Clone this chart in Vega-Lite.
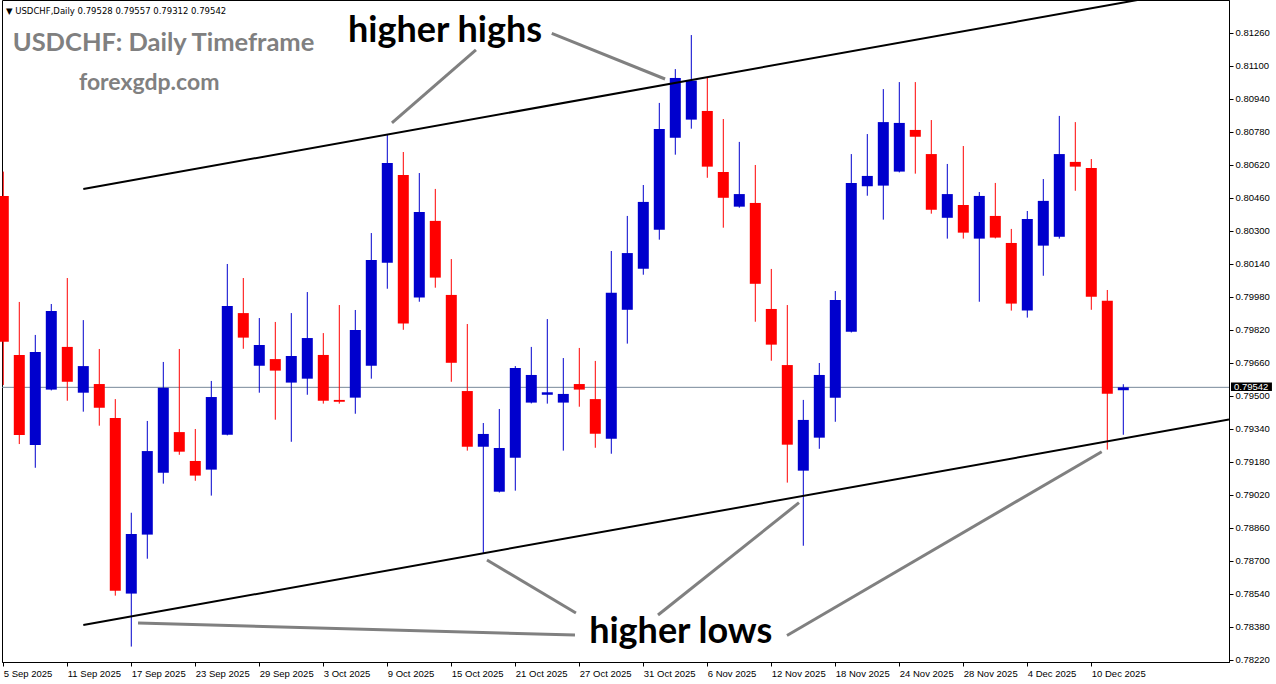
{
  "$schema": "https://vega.github.io/schema/vega-lite/v6.json",
  "width": 1227,
  "height": 662,
  "autosize": {"type": "none"},
  "padding": {"left": 2, "top": 0, "right": 47, "bottom": 22},
  "background": "white",
  "config": {
    "view": {"stroke": "#000000", "strokeWidth": 1},
    "scale": {"continuousPadding": 0},
    "axis": {"labelFont": "Liberation Sans", "labelFontSize": 9.5, "labelColor": "#000000", "tickColor": "#000000", "domainColor": "#000000", "grid": false, "title": null, "labelOverlap": false, "labelFlush": false, "labelBound": false}
  },
  "datasets": {
    "candles": [
      {"i":0,"date":"2025-09-05","open":0.80470,"high":0.80588,"low":0.79553,"close":0.79763},
      {"i":1,"date":"2025-09-08","open":0.79699,"high":0.79956,"low":0.79267,"close":0.79311},
      {"i":2,"date":"2025-09-09","open":0.79262,"high":0.79796,"low":0.79152,"close":0.79713},
      {"i":3,"date":"2025-09-10","open":0.79531,"high":0.79946,"low":0.79527,"close":0.79912},
      {"i":4,"date":"2025-09-11","open":0.79738,"high":0.80072,"low":0.79477,"close":0.79569},
      {"i":5,"date":"2025-09-12","open":0.79516,"high":0.79868,"low":0.79424,"close":0.79645},
      {"i":6,"date":"2025-09-15","open":0.79558,"high":0.79728,"low":0.79356,"close":0.79443},
      {"i":7,"date":"2025-09-16","open":0.79393,"high":0.79485,"low":0.78532,"close":0.78556},
      {"i":8,"date":"2025-09-17","open":0.78542,"high":0.78934,"low":0.78285,"close":0.78831},
      {"i":9,"date":"2025-09-18","open":0.78828,"high":0.79379,"low":0.78711,"close":0.79233},
      {"i":10,"date":"2025-09-19","open":0.79128,"high":0.79665,"low":0.79075,"close":0.79540},
      {"i":11,"date":"2025-09-22","open":0.79325,"high":0.79728,"low":0.79215,"close":0.79230},
      {"i":12,"date":"2025-09-23","open":0.79185,"high":0.79340,"low":0.79089,"close":0.79114},
      {"i":13,"date":"2025-09-24","open":0.79143,"high":0.79573,"low":0.79017,"close":0.79495},
      {"i":14,"date":"2025-09-25","open":0.79312,"high":0.80140,"low":0.79309,"close":0.79936},
      {"i":15,"date":"2025-09-26","open":0.79902,"high":0.80072,"low":0.79729,"close":0.79783},
      {"i":16,"date":"2025-09-29","open":0.79647,"high":0.79878,"low":0.79516,"close":0.79747},
      {"i":17,"date":"2025-09-30","open":0.79679,"high":0.79859,"low":0.79385,"close":0.79623},
      {"i":18,"date":"2025-10-01","open":0.79565,"high":0.79902,"low":0.79278,"close":0.79694},
      {"i":19,"date":"2025-10-02","open":0.79584,"high":0.80004,"low":0.79506,"close":0.79781},
      {"i":20,"date":"2025-10-03","open":0.79699,"high":0.79805,"low":0.79463,"close":0.79477},
      {"i":21,"date":"2025-10-06","open":0.79481,"high":0.79941,"low":0.79463,"close":0.79472},
      {"i":22,"date":"2025-10-07","open":0.79492,"high":0.79917,"low":0.79414,"close":0.79820},
      {"i":23,"date":"2025-10-08","open":0.79647,"high":0.80290,"low":0.79584,"close":0.80159},
      {"i":24,"date":"2025-10-09","open":0.80146,"high":0.80767,"low":0.80020,"close":0.80630},
      {"i":25,"date":"2025-10-10","open":0.80572,"high":0.80683,"low":0.79821,"close":0.79851},
      {"i":26,"date":"2025-10-13","open":0.79977,"high":0.80581,"low":0.79957,"close":0.80392},
      {"i":27,"date":"2025-10-14","open":0.80349,"high":0.80504,"low":0.80025,"close":0.80074},
      {"i":28,"date":"2025-10-15","open":0.79990,"high":0.80164,"low":0.79569,"close":0.79661},
      {"i":29,"date":"2025-10-16","open":0.79524,"high":0.79849,"low":0.79235,"close":0.79254},
      {"i":30,"date":"2025-10-17","open":0.79254,"high":0.79369,"low":0.78739,"close":0.79316},
      {"i":31,"date":"2025-10-20","open":0.79036,"high":0.79437,"low":0.79032,"close":0.79248},
      {"i":32,"date":"2025-10-21","open":0.79201,"high":0.79645,"low":0.79041,"close":0.79636},
      {"i":33,"date":"2025-10-22","open":0.79468,"high":0.79738,"low":0.79464,"close":0.79602},
      {"i":34,"date":"2025-10-23","open":0.79506,"high":0.79873,"low":0.79463,"close":0.79518},
      {"i":35,"date":"2025-10-24","open":0.79468,"high":0.79684,"low":0.79235,"close":0.79510},
      {"i":36,"date":"2025-10-27","open":0.79558,"high":0.79733,"low":0.79448,"close":0.79531},
      {"i":37,"date":"2025-10-28","open":0.79485,"high":0.79670,"low":0.79249,"close":0.79317},
      {"i":38,"date":"2025-10-29","open":0.79293,"high":0.80203,"low":0.79220,"close":0.80000},
      {"i":39,"date":"2025-10-30","open":0.79918,"high":0.80373,"low":0.79754,"close":0.80193},
      {"i":40,"date":"2025-10-31","open":0.80117,"high":0.80523,"low":0.80088,"close":0.80441},
      {"i":41,"date":"2025-11-03","open":0.80306,"high":0.80921,"low":0.80258,"close":0.80795},
      {"i":42,"date":"2025-11-04","open":0.80752,"high":0.81085,"low":0.80670,"close":0.81042},
      {"i":43,"date":"2025-11-05","open":0.80840,"high":0.81250,"low":0.80796,"close":0.81029},
      {"i":44,"date":"2025-11-06","open":0.80882,"high":0.81043,"low":0.80558,"close":0.80612},
      {"i":45,"date":"2025-11-07","open":0.80586,"high":0.80843,"low":0.80316,"close":0.80461},
      {"i":46,"date":"2025-11-10","open":0.80418,"high":0.80732,"low":0.80413,"close":0.80479},
      {"i":47,"date":"2025-11-11","open":0.80436,"high":0.80620,"low":0.79860,"close":0.80044},
      {"i":48,"date":"2025-11-12","open":0.79922,"high":0.80116,"low":0.79671,"close":0.79749},
      {"i":49,"date":"2025-11-13","open":0.79650,"high":0.79941,"low":0.79080,"close":0.79264},
      {"i":50,"date":"2025-11-14","open":0.79138,"high":0.79481,"low":0.78774,"close":0.79384},
      {"i":51,"date":"2025-11-17","open":0.79298,"high":0.79660,"low":0.79244,"close":0.79602},
      {"i":52,"date":"2025-11-18","open":0.79492,"high":0.80009,"low":0.79375,"close":0.79965},
      {"i":53,"date":"2025-11-19","open":0.79812,"high":0.80673,"low":0.79808,"close":0.80533},
      {"i":54,"date":"2025-11-20","open":0.80517,"high":0.80770,"low":0.80471,"close":0.80567},
      {"i":55,"date":"2025-11-21","open":0.80520,"high":0.80988,"low":0.80355,"close":0.80828},
      {"i":56,"date":"2025-11-24","open":0.80588,"high":0.81022,"low":0.80584,"close":0.80824},
      {"i":57,"date":"2025-11-25","open":0.80790,"high":0.81022,"low":0.80578,"close":0.80757},
      {"i":58,"date":"2025-11-26","open":0.80673,"high":0.80838,"low":0.80384,"close":0.80403},
      {"i":59,"date":"2025-11-27","open":0.80364,"high":0.80625,"low":0.80263,"close":0.80479},
      {"i":60,"date":"2025-11-28","open":0.80426,"high":0.80712,"low":0.80263,"close":0.80292},
      {"i":61,"date":"2025-12-01","open":0.80263,"high":0.80489,"low":0.79957,"close":0.80470},
      {"i":62,"date":"2025-12-02","open":0.80373,"high":0.80533,"low":0.80264,"close":0.80268},
      {"i":63,"date":"2025-12-03","open":0.80242,"high":0.80310,"low":0.79914,"close":0.79948},
      {"i":64,"date":"2025-12-04","open":0.79914,"high":0.80397,"low":0.79880,"close":0.80358},
      {"i":65,"date":"2025-12-05","open":0.80229,"high":0.80552,"low":0.80083,"close":0.80446},
      {"i":66,"date":"2025-12-08","open":0.80272,"high":0.80858,"low":0.80263,"close":0.80673},
      {"i":67,"date":"2025-12-09","open":0.80635,"high":0.80828,"low":0.80495,"close":0.80612},
      {"i":68,"date":"2025-12-10","open":0.80605,"high":0.80649,"low":0.79918,"close":0.79981},
      {"i":69,"date":"2025-12-11","open":0.79962,"high":0.80014,"low":0.79240,"close":0.79511},
      {"i":70,"date":"2025-12-12","open":0.79528,"high":0.79557,"low":0.79312,"close":0.79542}
    ],
    "trend": [
      {"line":"upper","i":5.0,"p":0.805036},
      {"line":"upper","i":76.606,"p":0.814995},
      {"line":"lower","i":5.0,"p":0.783897},
      {"line":"lower","i":76.606,"p":0.793856}
    ],
    "pointers": [
      {"id":"h1","i":24.29,"p":0.80824},
      {"id":"h1","i":29.54,"p":0.81178},
      {"id":"h2","i":34.28,"p":0.812585},
      {"id":"h2","i":41.36,"p":0.81037},
      {"id":"l1","i":8.42,"p":0.783994},
      {"id":"l1","i":35.73,"p":0.783412},
      {"id":"l2","i":30.23,"p":0.787048},
      {"id":"l2","i":35.79,"p":0.784479},
      {"id":"l3","i":49.73,"p":0.789827},
      {"id":"l3","i":40.92,"p":0.784382},
      {"id":"l4","i":68.65,"p":0.792299},
      {"id":"l4","i":48.98,"p":0.783388}
    ],
    "labels": [
      {"kind":"callout","text":"higher highs","i":27.61,"p":0.812178},
      {"kind":"callout","text":"higher lows","i":42.34,"p":0.78301},
      {"kind":"title","text":"USDCHF: Daily Timeframe","i":0.5875,"p":0.811742},
      {"kind":"site","text":"forexgdp.com","i":4.73,"p":0.809836},
      {"kind":"header","text":"▼ USDCHF,Daily  0.79528 0.79557 0.79312 0.79542","i":0.17,"p":0.813521}
    ]
  },
  "layer": [
    {
      "data": {"name": "candles"},
      "transform": [{"filter": "datum.i == 70"}],
      "mark": {"type": "rule", "color": "#778899", "strokeWidth": 1},
      "encoding": {
        "y": {"field": "close", "type": "quantitative", "scale": {"domain": [0.782103, 0.8142], "zero": false, "nice": false, "padding": 0}, "axis": {"orient": "right", "values": [0.7822,0.7838,0.7854,0.787,0.7886,0.7902,0.7918,0.7934,0.795,0.7966,0.7982,0.7998,0.8014,0.803,0.8046,0.8062,0.8078,0.8094,0.811,0.8126], "tickCount": 40, "format": ".5f", "tickSize": 4, "labelPadding": 2, "labelBaseline": "middle", "labelOverlap": false}}
      }
    },
    {
      "data": {"name": "candles"},
      "mark": {"type": "rule", "strokeWidth": 1},
      "encoding": {
        "x": {"field": "i", "type": "quantitative", "scale": {"domain": [-0.081, 76.606], "zero": false, "nice": false, "padding": 0}, "axis": {"orient": "bottom", "values": [0,4,8,12,16,20,24,28,32,36,40,44,48,52,56,60,64,68], "tickCount": 40, "labelExpr": "['5 Sep 2025','11 Sep 2025','17 Sep 2025','23 Sep 2025','29 Sep 2025','3 Oct 2025','9 Oct 2025','15 Oct 2025','21 Oct 2025','27 Oct 2025','31 Oct 2025','6 Nov 2025','12 Nov 2025','18 Nov 2025','24 Nov 2025','28 Nov 2025','4 Dec 2025','10 Dec 2025'][round(datum.value/4)]", "labelAlign": "left", "tickSize": 4, "labelPadding": 2, "labelOverlap": false}},
        "y": {"field": "low", "type": "quantitative"},
        "y2": {"field": "high"},
        "color": {"condition": {"test": "datum.close > datum.open", "value": "#0000CD"}, "value": "#FF0000"}
      }
    },
    {
      "data": {"name": "candles"},
      "mark": {"type": "bar", "size": 11},
      "encoding": {
        "x": {"field": "i", "type": "quantitative"},
        "y": {"field": "open", "type": "quantitative"},
        "y2": {"field": "close"},
        "color": {"condition": {"test": "datum.close > datum.open", "value": "#0000CD"}, "value": "#FF0000"}
      }
    },
    {
      "data": {"name": "trend"},
      "mark": {"type": "line", "color": "#000000", "strokeWidth": 2, "clip": true},
      "encoding": {
        "x": {"field": "i", "type": "quantitative"},
        "y": {"field": "p", "type": "quantitative"},
        "detail": {"field": "line"}
      }
    },
    {
      "data": {"name": "pointers"},
      "mark": {"type": "line", "color": "#808080", "strokeWidth": 3},
      "encoding": {
        "x": {"field": "i", "type": "quantitative"},
        "y": {"field": "p", "type": "quantitative"},
        "detail": {"field": "id"},
        "order": {"value": 0}
      }
    },
    {
      "data": {"name": "labels"},
      "transform": [{"filter": "datum.kind == 'callout'"}],
      "mark": {"type": "text", "font": "Lato", "fontWeight": "bold", "fontSize": 36, "color": "#000000", "align": "center", "baseline": "alphabetic"},
      "encoding": {
        "x": {"field": "i", "type": "quantitative"},
        "y": {"field": "p", "type": "quantitative"},
        "text": {"field": "text"}
      }
    },
    {
      "data": {"name": "labels"},
      "transform": [{"filter": "datum.kind == 'title'"}],
      "mark": {"type": "text", "font": "Lato", "fontWeight": "bold", "fontSize": 25.5, "color": "#808080", "align": "left", "baseline": "alphabetic"},
      "encoding": {
        "x": {"field": "i", "type": "quantitative"},
        "y": {"field": "p", "type": "quantitative"},
        "text": {"field": "text"}
      }
    },
    {
      "data": {"name": "labels"},
      "transform": [{"filter": "datum.kind == 'site'"}],
      "mark": {"type": "text", "font": "Lato", "fontWeight": "bold", "fontSize": 23, "color": "#808080", "align": "left", "baseline": "alphabetic"},
      "encoding": {
        "x": {"field": "i", "type": "quantitative"},
        "y": {"field": "p", "type": "quantitative"},
        "text": {"field": "text"}
      }
    },
    {
      "data": {"name": "labels"},
      "transform": [{"filter": "datum.kind == 'header'"}],
      "mark": {"type": "text", "font": "DejaVu Sans", "fontSize": 8.5, "color": "#000000", "align": "left", "baseline": "alphabetic"},
      "encoding": {
        "x": {"field": "i", "type": "quantitative"},
        "y": {"field": "p", "type": "quantitative"},
        "text": {"field": "text"}
      }
    },
    {
      "data": {"name": "candles"},
      "transform": [{"filter": "datum.i == 70"}],
      "mark": {"type": "rect", "color": "#000000", "clip": false},
      "encoding": {
        "x": {"datum": 76.73, "type": "quantitative"},
        "x2": {"datum": 79.29},
        "y": {"datum": 0.795655, "type": "quantitative"},
        "y2": {"datum": 0.795243}
      }
    },
    {
      "data": {"name": "candles"},
      "transform": [{"filter": "datum.i == 70"}],
      "mark": {"type": "text", "font": "Liberation Sans", "fontSize": 9.5, "color": "#FFFFFF", "align": "left", "baseline": "middle", "clip": false},
      "encoding": {
        "x": {"datum": 76.92, "type": "quantitative"},
        "y": {"field": "close", "type": "quantitative"},
        "text": {"field": "close", "format": ".5f"}
      }
    }
  ]
}
